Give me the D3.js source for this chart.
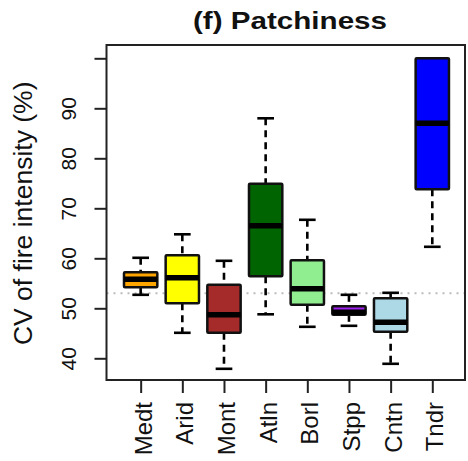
<!DOCTYPE html>
<meta charset="utf-8">
<style>
body { margin: 0; background: #fff; }
text { font-family: "Liberation Sans", Arial, sans-serif; fill: #111; }
</style>
<svg width="468" height="461"></svg>
<script src="https://d3js.org/d3.v7.min.js"></script>
<script>

// Boxplot stats (CV of fire intensity, %)
var regions  = ["Medt", "Arid", "Mont", "Atln", "Borl", "Stpp", "Cntn", "Tndr"];
var colors   = ["#FFA500", "#FFFF00", "#A52A2A", "#006400", "#90EE90", "#A020F0", "#ADD8E6", "#0000FF"];
var whiskLo  = [52.7, 45.1, 37.9, 48.8, 46.3, 46.5, 38.9, 62.3];
var q1       = [54.2, 51.0, 45.1, 56.4, 50.7, 48.7, 45.3, 73.8];
var medians  = [55.8, 56.1, 48.7, 66.5, 53.9, 49.2, 47.2, 87.0];
var q3       = [57.2, 60.6, 54.7, 74.9, 59.6, 50.4, 52.0, 100.0];
var whiskHi  = [60.1, 64.8, 59.5, 88.0, 67.7, 52.7, 53.1, 100.0];
var yTicks   = [40, 50, 60, 70, 80, 90, 100];
var yLabels  = ["40", "50", "60", "70", "80", "90", ""];
var refLine  = 53;

var data = regions.map((r, i) => ({
  name: r, color: colors[i], lo: whiskLo[i], q1: q1[i], med: medians[i], q3: q3[i], hi: whiskHi[i], i: i + 1
}));

var svg = d3.select("svg"),
    width = +svg.attr("width"),
    height = +svg.attr("height"),
    margin = {top: 45, right: 3, bottom: 81, left: 106.5};

var x = d3.scaleLinear()
    .domain([0.18, 8.785])
    .range([margin.left, width - margin.right]);

var y = d3.scaleLinear()
    .domain([35.66, 102.66])
    .range([height - margin.bottom, margin.top]);

var unit = x(2) - x(1),
    boxW = 0.8 * unit,
    capW = 0.4 * unit;

// reference line
svg.append("line")
    .attr("x1", x.range()[0]).attr("x2", x.range()[1])
    .attr("y1", y(refLine)).attr("y2", y(refLine))
    .attr("stroke", "#bbb")
    .attr("stroke-width", 2)
    .attr("stroke-dasharray", "2,5");

var g = svg.append("g")
  .selectAll("g")
  .data(data)
  .join("g");

// whiskers
g.append("line")
    .attr("x1", d => x(d.i)).attr("x2", d => x(d.i))
    .attr("y1", d => y(d.hi)).attr("y2", d => y(d.q3))
    .attr("stroke", "#000").attr("stroke-width", 2.6)
    .attr("stroke-dasharray", "7,5");
g.append("line")
    .attr("x1", d => x(d.i)).attr("x2", d => x(d.i))
    .attr("y1", d => y(d.q1)).attr("y2", d => y(d.lo))
    .attr("stroke", "#000").attr("stroke-width", 2.6)
    .attr("stroke-dasharray", "7,5");

// staples
["hi", "lo"].forEach(k => {
  g.append("line")
      .attr("x1", d => x(d.i) - capW / 2).attr("x2", d => x(d.i) + capW / 2)
      .attr("y1", d => y(d[k])).attr("y2", d => y(d[k]))
      .attr("stroke", "#000").attr("stroke-width", 2.6);
});

// boxes
g.append("rect")
    .attr("x", d => x(d.i) - boxW / 2)
    .attr("width", boxW)
    .attr("y", d => y(d.q3))
    .attr("height", d => y(d.q1) - y(d.q3))
    .attr("fill", d => d.color)
    .attr("stroke", "#111")
    .attr("stroke-width", 2.5)
    .attr("rx", 1);

// medians
g.append("line")
    .attr("x1", d => x(d.i) - boxW / 2).attr("x2", d => x(d.i) + boxW / 2)
    .attr("y1", d => y(d.med)).attr("y2", d => y(d.med))
    .attr("stroke", "#000").attr("stroke-width", 5.5);

// frame
svg.append("rect")
    .attr("x", x.range()[0]).attr("y", y.range()[1])
    .attr("width", x.range()[1] - x.range()[0])
    .attr("height", y.range()[0] - y.range()[1])
    .attr("fill", "none")
    .attr("stroke", "#222")
    .attr("stroke-width", 2);

// y axis
var yAxis = svg.append("g")
    .attr("transform", "translate(" + x.range()[0] + ",0)")
    .call(d3.axisLeft(y).tickValues(yTicks).tickSize(12).tickPadding(0).tickFormat((d, i) => yLabels[i]));
yAxis.select(".domain").remove();
yAxis.selectAll(".tick line").attr("stroke", "#222").attr("stroke-width", 2);
yAxis.selectAll(".tick text")
    .attr("font-size", 21)
    .attr("x", null).attr("dy", null)
    .attr("text-anchor", "middle")
    .attr("transform", "translate(-31,0) rotate(-90)")
    .attr("fill", "#111");

// x axis
var xAxis = svg.append("g")
    .attr("transform", "translate(0," + y.range()[0] + ")")
    .call(d3.axisBottom(x).tickValues(d3.range(1, regions.length + 1)).tickSize(13).tickFormat(d => regions[d - 1]));
xAxis.select(".domain").remove();
xAxis.selectAll(".tick line").attr("stroke", "#222").attr("stroke-width", 2);
xAxis.selectAll(".tick text")
    .attr("font-size", 24)
    .attr("y", null).attr("dy", null)
    .attr("text-anchor", "end")
    .attr("transform", "translate(10.5,22) rotate(-90)")
    .attr("fill", "#111");

// titles
svg.append("text")
    .attr("x", 290).attr("y", 29)
    .attr("text-anchor", "middle")
    .attr("font-size", 24)
    .attr("font-weight", "bold")
    .attr("textLength", 194)
    .attr("lengthAdjust", "spacingAndGlyphs")
    .text("(f) Patchiness");

svg.append("text")
    .attr("transform", "translate(32," + ((y.range()[0] + y.range()[1]) / 2 + 0.8) + ") rotate(-90)")
    .attr("text-anchor", "middle")
    .attr("font-size", 26.5)
    .text("CV of fire intensity (%)");

</script>
